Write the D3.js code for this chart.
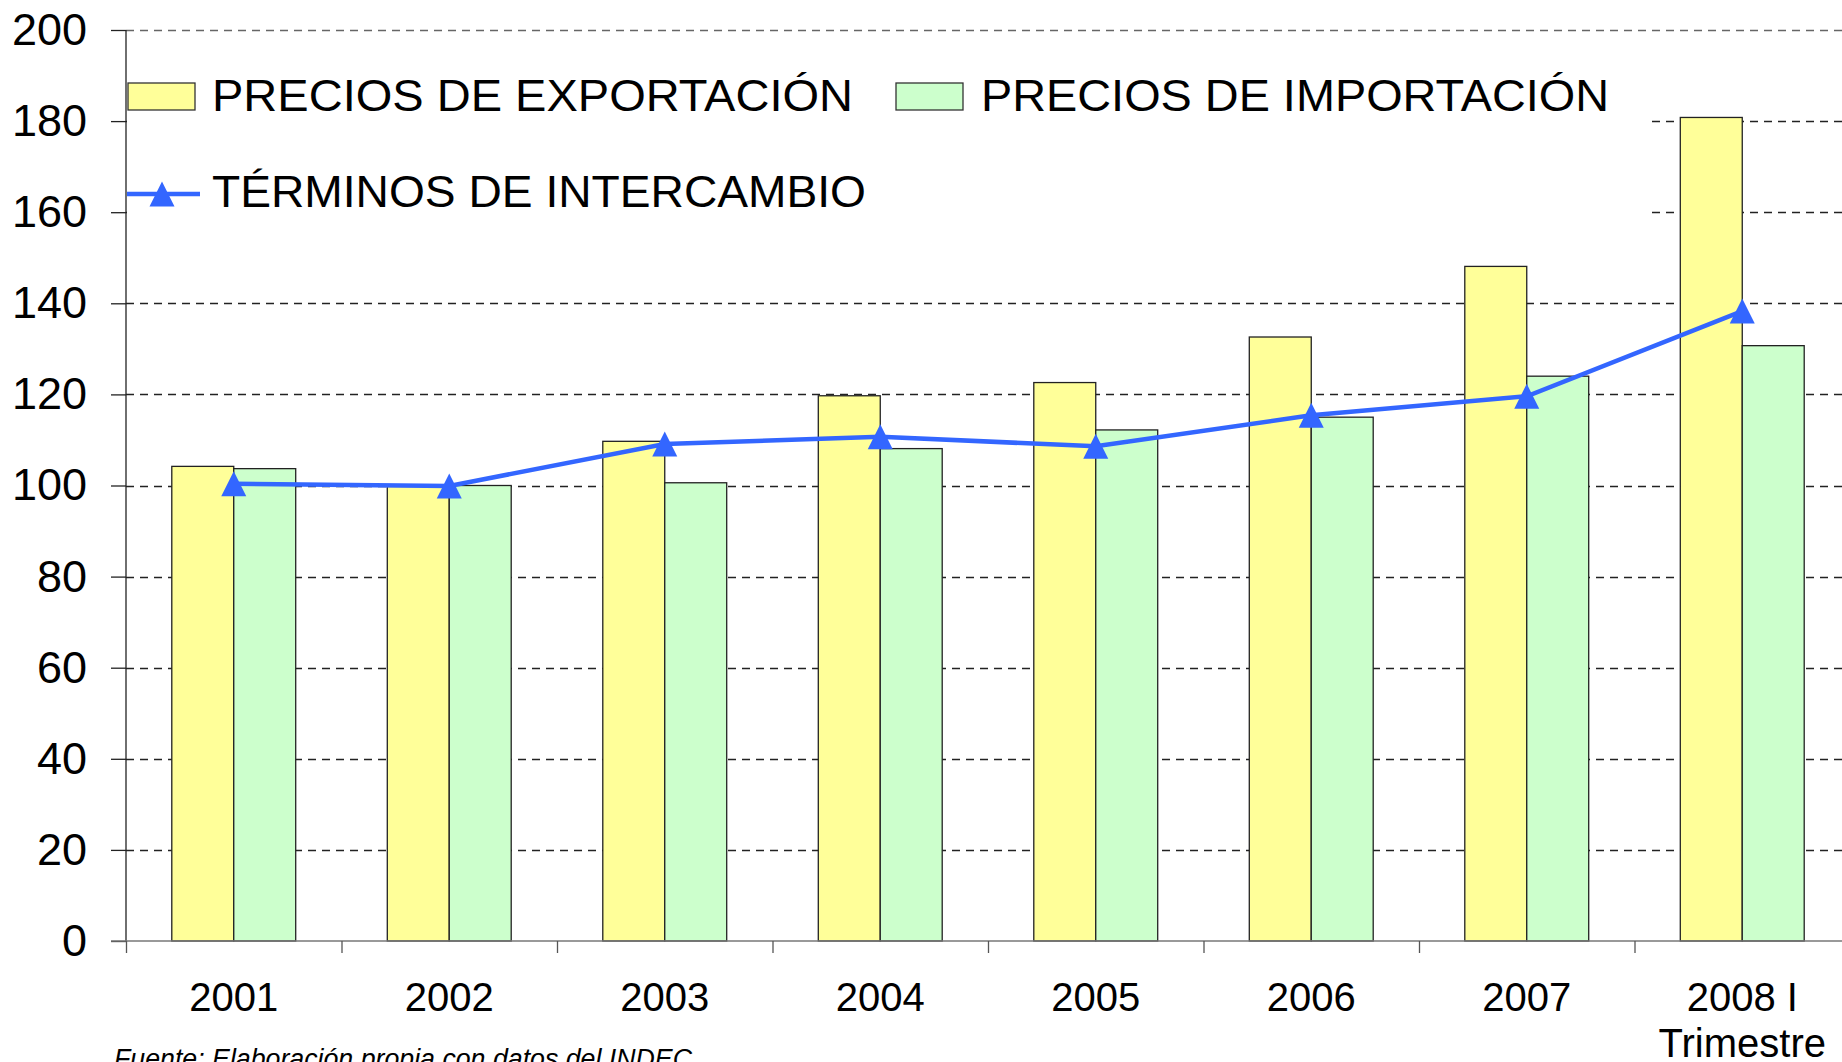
<!DOCTYPE html>
<html>
<head>
<meta charset="utf-8">
<script src="https://cdn.jsdelivr.net/npm/d3@7"></script>
<style>
  body { margin: 0; background: #fff; }
  #chart-area { width: 1842px; height: 1062px; overflow: hidden; }
  text { font-family: "Liberation Sans", Arial, sans-serif; fill: #000; }
</style>
</head>
<body>
<div id="chart-area"></div>
<script>
// chart values
const categories = ["2001", "2002", "2003", "2004", "2005", "2006", "2007", "2008 I\nTrimestre"];
const exportPrices = [104.2, 99.8, 109.7, 119.7, 122.6, 132.6, 148.1, 180.8];
const importPrices = [103.7, 100.0, 100.6, 108.1, 112.2, 115.0, 124.0, 130.7];
const termsOfTrade = [100.4, 99.9, 109.1, 110.7, 108.6, 115.4, 119.6, 138.3];
const yTicks = [0, 20, 40, 60, 80, 100, 120, 140, 160, 180, 200];
const seriesNames = ["PRECIOS DE EXPORTACIÓN", "PRECIOS DE IMPORTACIÓN", "TÉRMINOS DE INTERCAMBIO"];
const sourceNote = "Fuente: Elaboración propia con datos del INDEC";

class TradeVis {
  constructor(parentElement) {
    this.parentElement = parentElement;
    this.initVis();
  }

  initVis() {
    let vis = this;

    vis.margin = { top: 30, right: 0, bottom: 121, left: 126 };
    vis.totalWidth = 1842;
    vis.totalHeight = 1062;
    vis.height = vis.totalHeight - vis.margin.top - vis.margin.bottom;
    // plot area runs a bit past the right edge of the picture
    vis.plotWidth = 1724;

    vis.svg = d3.select("#" + vis.parentElement)
      .append("svg")
      .attr("width", vis.totalWidth)
      .attr("height", vis.totalHeight)
      .append("g")
      .attr("transform", `translate(${vis.margin.left}, ${vis.margin.top})`);

    vis.x = d3.scaleBand()
      .domain(categories)
      .range([0, vis.plotWidth])
      .paddingInner(0.425)
      .paddingOuter(0.2125);

    vis.xSub = d3.scaleBand()
      .domain(["exp", "imp"])
      .range([0, vis.x.bandwidth()]);

    vis.xEdges = d3.scaleLinear()
      .domain([0, categories.length])
      .range([0, vis.plotWidth]);

    vis.y = d3.scaleLinear().domain([0, 200]).range([vis.height, 0]);

    vis.wrangleData();
  }

  wrangleData() {
    let vis = this;

    vis.displayData = categories.map((c, i) => ({
      category: c,
      exp: exportPrices[i],
      imp: importPrices[i],
      terms: termsOfTrade[i]
    }));

    vis.updateVis();
  }

  updateVis() {
    let vis = this;

    // dashed grid
    vis.svg.append("g")
      .selectAll("line")
      .data(yTicks.filter(d => d > 0))
      .enter()
      .append("line")
      .attr("x1", 0)
      .attr("x2", vis.plotWidth)
      .attr("y1", d => Math.round(vis.y(d)) + 0.5)
      .attr("y2", d => Math.round(vis.y(d)) + 0.5)
      .attr("stroke", d => d === 200 ? "#666" : "#222")
      .attr("stroke-width", 1.3)
      .attr("stroke-dasharray", "8,6");

    // legend background hides the grid behind it
    vis.svg.append("rect")
      .attr("x", 1)
      .attr("y", 6)
      .attr("width", 1519)
      .attr("height", 205)
      .attr("fill", "#fff");

    // bars
    let groups = vis.svg.append("g")
      .selectAll("g")
      .data(vis.displayData)
      .enter()
      .append("g")
      .attr("transform", d => `translate(${vis.x(d.category)},0)`);

    groups.append("rect")
      .attr("x", vis.xSub("exp"))
      .attr("y", d => vis.y(d.exp))
      .attr("width", vis.xSub.bandwidth())
      .attr("height", d => vis.height - vis.y(d.exp))
      .attr("fill", "#FFFF99")
      .attr("stroke", "#222")
      .attr("stroke-width", 1.3);

    groups.append("rect")
      .attr("x", vis.xSub("imp"))
      .attr("y", d => vis.y(d.imp))
      .attr("width", vis.xSub.bandwidth())
      .attr("height", d => vis.height - vis.y(d.imp))
      .attr("fill", "#CCFFCC")
      .attr("stroke", "#222")
      .attr("stroke-width", 1.3);

    // y axis
    vis.yAxis = d3.axisLeft(vis.y)
      .tickValues(yTicks)
      .tickSize(15)
      .tickPadding(24)
      .tickFormat(d3.format("d"));

    let yAxisG = vis.svg.append("g")
      .attr("class", "y-axis axis")
      .call(vis.yAxis);
    yAxisG.select(".domain").attr("stroke", "#222").attr("stroke-width", 1.3)
      .attr("d", `M0,${vis.y(200)}V${vis.height}`);
    yAxisG.selectAll(".tick line").attr("stroke", "#222").attr("stroke-width", 1.3);
    yAxisG.selectAll(".tick text")
      .style("font-size", "45px")
      .style("font-family", '"Liberation Sans", Arial, sans-serif')
      .attr("fill", "#000");

    // x axis with ticks between categories
    vis.xAxis = d3.axisBottom(vis.xEdges)
      .tickValues(d3.range(categories.length + 1))
      .tickSize(12)
      .tickFormat("");

    let xAxisG = vis.svg.append("g")
      .attr("class", "x-axis axis")
      .attr("transform", `translate(0, ${vis.height})`)
      .call(vis.xAxis);
    xAxisG.select(".domain").attr("stroke", "#777").attr("stroke-width", 1.6)
      .attr("d", `M-15,0H${vis.plotWidth}`);
    xAxisG.selectAll(".tick line").attr("stroke", "#555").attr("stroke-width", 1.3);

    // category labels
    let labels = vis.svg.append("g")
      .selectAll("text")
      .data(vis.displayData)
      .enter()
      .append("text")
      .attr("text-anchor", "middle")
      .attr("transform", d => `translate(${vis.x(d.category) + vis.x.bandwidth() / 2}, ${vis.height + 70})`)
      .style("font-size", "40px");

    labels.selectAll("tspan")
      .data(d => d.category.split("\n"))
      .enter()
      .append("tspan")
      .attr("x", 0)
      .attr("y", (d, i) => i * 46)
      .text(d => d);

    // terms of trade line
    let cx = d => vis.x(d.category) + vis.x.bandwidth() / 2;

    let line = d3.line()
      .x(cx)
      .y(d => vis.y(d.terms));

    vis.svg.append("path")
      .datum(vis.displayData)
      .attr("d", line)
      .attr("fill", "none")
      .attr("stroke", "#3366FF")
      .attr("stroke-width", 4.5);

    vis.svg.append("g")
      .selectAll("path")
      .data(vis.displayData)
      .enter()
      .append("path")
      .attr("d", d => vis.triangle(cx(d), vis.y(d.terms)))
      .attr("fill", "#3366FF");

    // legend
    let legend = vis.svg.append("g").attr("class", "legend");

    legend.append("rect")
      .attr("x", 2).attr("y", 53).attr("width", 67).attr("height", 27)
      .attr("fill", "#FFFF99").attr("stroke", "#333").attr("stroke-width", 1.3);
    legend.append("text")
      .attr("x", 86).attr("y", 81)
      .attr("textLength", 641).attr("lengthAdjust", "spacingAndGlyphs")
      .style("font-size", "44px")
      .text(seriesNames[0]);

    legend.append("rect")
      .attr("x", 770).attr("y", 53).attr("width", 67).attr("height", 27)
      .attr("fill", "#CCFFCC").attr("stroke", "#333").attr("stroke-width", 1.3);
    legend.append("text")
      .attr("x", 855).attr("y", 81)
      .attr("textLength", 628).attr("lengthAdjust", "spacingAndGlyphs")
      .style("font-size", "44px")
      .text(seriesNames[1]);

    legend.append("line")
      .attr("x1", 1).attr("x2", 74).attr("y1", 164).attr("y2", 164)
      .attr("stroke", "#3366FF").attr("stroke-width", 4.5);
    legend.append("path")
      .attr("d", vis.triangle(36, 164))
      .attr("fill", "#3366FF");
    legend.append("text")
      .attr("x", 86).attr("y", 177)
      .attr("textLength", 654).attr("lengthAdjust", "spacingAndGlyphs")
      .style("font-size", "44px")
      .text(seriesNames[2]);

    // source note, cut off at the bottom like the original
    vis.svg.append("text")
      .attr("x", 114 - vis.margin.left)
      .attr("y", 1068 - vis.margin.top)
      .attr("textLength", 578).attr("lengthAdjust", "spacingAndGlyphs")
      .style("font-size", "27px")
      .style("font-style", "italic")
      .text(sourceNote);
  }

  triangle = (x, y) => {
    let s = 12.5;
    return `M${x},${y - s}L${x + s},${y + s}L${x - s},${y + s}Z`;
  }
}

let tradeVis = new TradeVis("chart-area");
</script>
</body>
</html>
